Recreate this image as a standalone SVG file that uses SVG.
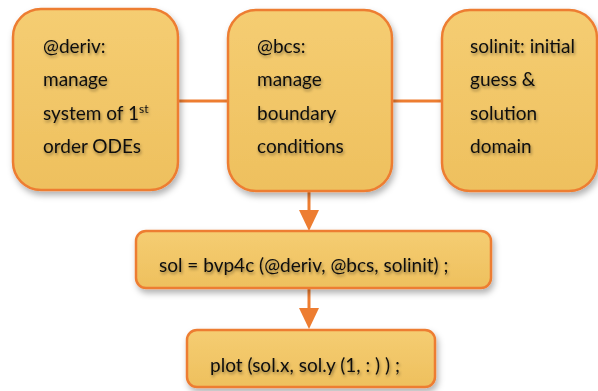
<svg xmlns="http://www.w3.org/2000/svg" width="598" height="391" viewBox="0 0 598 391">
<defs>
<linearGradient id="g" x1="0" y1="0" x2="0" y2="1">
<stop offset="0" stop-color="#F5CD72"/>
<stop offset="1" stop-color="#EEC05E"/>
</linearGradient>
<filter id="bs" x="-10%" y="-10%" width="125%" height="130%">
<feDropShadow dx="2" dy="4" stdDeviation="3" flood-color="#000" flood-opacity="0.3"/>
</filter>
<filter id="ts" x="-10%" y="-30%" width="120%" height="170%">
<feDropShadow dx="1" dy="2" stdDeviation="1.5" flood-color="#000" flood-opacity="0.4"/>
</filter>
</defs>
<style>
.box{fill:url(#g);stroke:#ED7D31;stroke-width:2.5;filter:url(#bs)}
.t{font-family:Lato,"Liberation Sans",sans-serif;font-size:19px;fill:#111;filter:url(#ts)}
.c{stroke:#ED7D31;stroke-width:3;fill:none}
.h{fill:#ED7D31}
</style>
<rect width="598" height="391" fill="#fff"/>
<g id="connectors">
<line class="c" x1="177" y1="101" x2="228" y2="101"/>
<line class="c" x1="392" y1="101" x2="442" y2="101"/>
<line class="c" x1="309" y1="190" x2="309" y2="212"/>
<path class="h" d="M299,210 L319,210 L309,231 Z"/>
<line class="c" x1="309" y1="288" x2="309" y2="310"/>
<path class="h" d="M299,308 L319,308 L309,329 Z"/>
</g>
<g id="deriv">
<rect class="box" x="13" y="9" width="165" height="181" rx="28"/>
<text class="t" x="43" y="53">@deriv:</text>
<text class="t" x="43" y="86">manage</text>
<text class="t" x="43" y="120">system of 1<tspan font-size="12" dy="-7">st</tspan></text>
<text class="t" x="43" y="153">order ODEs</text>
</g>
<g id="bcs">
<rect class="box" x="228" y="10" width="164" height="181" rx="28"/>
<text class="t" x="257" y="53">@bcs:</text>
<text class="t" x="257" y="86">manage</text>
<text class="t" x="257" y="120">boundary</text>
<text class="t" x="257" y="153">conditions</text>
</g>
<g id="solinit">
<rect class="box" x="442" y="10" width="155" height="181" rx="28"/>
<text class="t" x="470" y="53">solinit: initial</text>
<text class="t" x="470" y="86">guess &amp;</text>
<text class="t" x="470" y="120">solution</text>
<text class="t" x="470" y="153">domain</text>
</g>
<g id="bvp4c">
<rect class="box" x="136" y="231" width="355" height="57" rx="10"/>
<text class="t" x="159" y="272">sol = bvp4c (@deriv, @bcs, solinit) ;</text>
</g>
<g id="plot">
<rect class="box" x="187" y="330" width="248" height="57" rx="10"/>
<text class="t" x="210" y="372">plot (sol.x, sol.y (1, : ) ) ;</text>
</g>
</svg>
